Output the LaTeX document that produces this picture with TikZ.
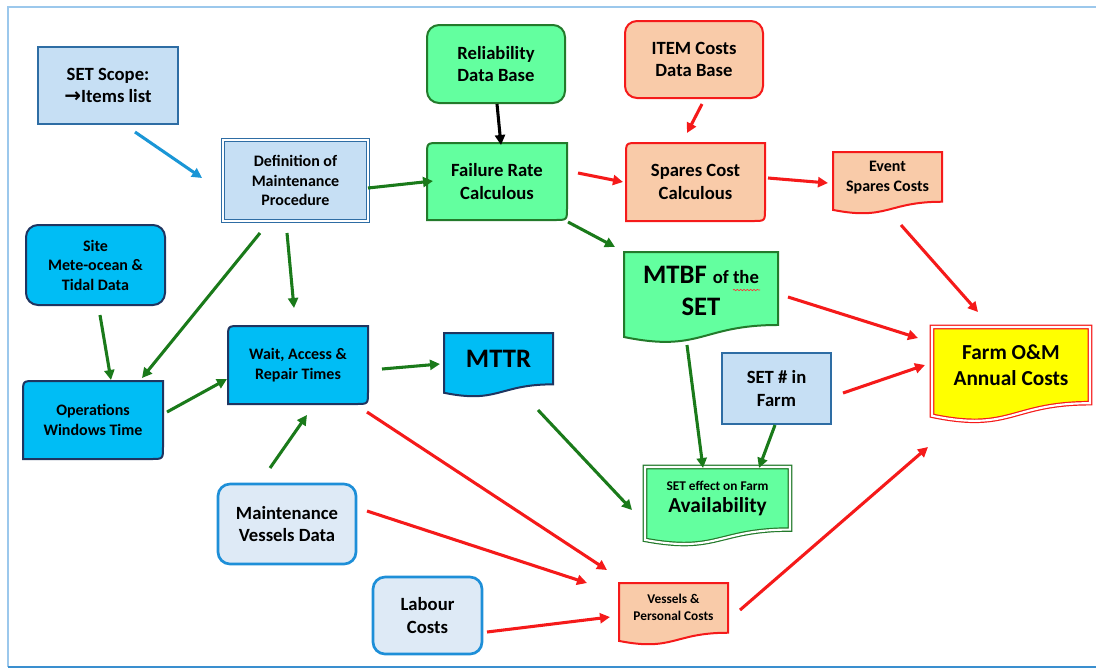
\documentclass[tikz,border=0pt]{standalone}
\usepackage{fontspec}
\setmainfont{Carlito}
\newfontfamily\arrowfont{DejaVu Sans}
\usetikzlibrary{arrows.meta,decorations.pathmorphing}
\definecolor{lblue}{HTML}{C6DFF4}
\definecolor{lbluebd}{HTML}{2E6DA4}
\definecolor{sky}{HTML}{00BDF5}
\definecolor{navy}{HTML}{1F3560}
\definecolor{pblue}{HTML}{DEEAF6}
\definecolor{pbluebd}{HTML}{1E8FD8}
\definecolor{mint}{HTML}{63FF9F}
\definecolor{dgreen}{HTML}{237A2B}
\definecolor{peach}{HTML}{F9CBA9}
\definecolor{ared}{HTML}{F51A1A}
\definecolor{agreen}{HTML}{1A7A1A}
\definecolor{ablue}{HTML}{1A96D6}
\definecolor{ayellow}{HTML}{FFFF00}
\definecolor{frametop}{HTML}{9CC8EC}
\definecolor{framebot}{HTML}{3A8FCF}
\newcommand\diagshape[5]{\path[#1] (#2,#5) -- (#2,#3+12) .. controls (#2,#3) .. (#2+12,#3) -- (#4,#3) -- (#4,#5-12) .. controls (#4,#5) .. (#4-12,#5) -- cycle;}
\newcommand\docshape[5]{\path[#1] (#2,#3) -- (#4,#3) -- (#4,{#3+0.802*(#5-#3)}) .. controls ({(#2+#4)/2},{#3+0.802*(#5-#3)}) and ({(#2+#4)/2},{#3+1.108*(#5-#3)}) .. (#2,{#3+0.934*(#5-#3)}) -- cycle;}
\newcommand\rectshape[5]{\path[#1] (#2,#3) rectangle (#4,#5);}
\tikzset{
  lbox/.style={fill=lblue,draw=lbluebd,line width=1.4pt},
  skybox/.style={fill=sky,draw=navy,line width=1.5pt},
  pbox/.style={fill=pblue,draw=pbluebd,line width=2pt,rounded corners=9pt},
  mintbox/.style={fill=mint,draw=dgreen,line width=1.5pt},
  peachbox/.style={fill=peach,draw=ared,line width=1.5pt},
  dbl/.style={line width=0.9pt,double=white,double distance=1.6pt},
  txt/.style={align=center,text=black,inner sep=0pt},
  fa/.style={font=\bfseries\fontsize{14}{17}\selectfont},
  fb/.style={font=\bfseries\fontsize{12}{14.6}\selectfont},
  arr/.style={line width=2.3pt,-{Triangle[length=7.5pt,width=7.5pt]}},
  ga/.style={arr,draw=agreen},
  ra/.style={arr,draw=ared},
}
\begin{document}
\begin{tikzpicture}[x=0.75pt,y=-0.75pt]
\useasboundingbox (0,0) rectangle (1096,669);
% frame
\draw[frametop,line width=1.5pt] (8,667) -- (8,7) -- (1096,7);
\draw[framebot,line width=1.8pt] (8,667) -- (1096,667);
% shapes
\rectshape{lbox}{38}{47}{178}{124}
\rectshape{lbox,dbl,draw=lbluebd}{223}{140}{368}{221}
\rectshape{mintbox,rounded corners=9pt}{427}{25}{565}{103}
\diagshape{mintbox}{427}{143}{567}{220}
\rectshape{peachbox,rounded corners=9pt}{625}{21}{763}{98}
\diagshape{peachbox}{626}{143}{765}{221}
\docshape{peachbox}{833}{152}{942}{214}
\docshape{fill=ayellow,draw=ared,dbl}{932}{327}{1090}{422}
\rectshape{skybox,rounded corners=9pt}{26}{225}{165}{305}
\diagshape{skybox}{23}{381}{163}{459}
\diagshape{skybox}{228}{326}{368}{404}
\docshape{skybox}{444}{333}{553}{397}
\docshape{mintbox}{624}{252}{778}{343}
\rectshape{lbox}{722}{353}{831}{424}
\docshape{fill=mint,draw=dgreen,dbl}{645}{467}{790}{545}
\rectshape{pbox}{218}{484}{356}{564}
\rectshape{pbox}{373}{577}{482}{654}
\docshape{peachbox}{619}{583}{728}{645}
% nodes
\node[txt,fa] (scope) at (108,85.5) {SET Scope:\\{\arrowfont\fontsize{15}{17}\selectfont →}Items list};
\node[txt,fb] (def) at (295.5,180.5) {Definition of\\Maintenance\\Procedure};
\node[txt,fa] (rel) at (496,64) {Reliability\\Data Base};
\node[txt,fa] (fail) at (497,181.5) {Failure Rate\\Calculous};
\node[txt,fa] (item) at (694,59.5) {ITEM Costs\\Data Base};
\node[txt,fa] (spares) at (695.5,182) {Spares Cost\\Calculous};
\node[txt,font=\bfseries\fontsize{12}{15}\selectfont] (event) at (887.5,178) {Event\\Spares Costs};
\node[txt,font=\bfseries\fontsize{16}{19.5}\selectfont] (farm) at (1011,365) {Farm O\&M\\Annual Costs};
\node[txt,fb] (site) at (95.5,265) {Site\\Mete-ocean \&\\Tidal Data};
\node[txt,fb] (ops) at (93,420) {Operations\\Windows Time};
\node[txt,fb] (wait) at (298,365) {Wait, Access \&\\Repair Times};
\node[txt,font=\bfseries\fontsize{20}{24}\selectfont] (mttr) at (498.5,359) {MTTR};
\node[txt,font=\bfseries\fontsize{20}{24}\selectfont] (mtbf) at (701,291) {MTBF {\fontsize{14}{17}\selectfont of the}\\SET};
\node[txt,fa] (setn) at (776.5,388.5) {SET \# in\\Farm};
\node[txt,font=\bfseries\fontsize{12}{16.5}\selectfont] (avail) at (717.5,498) {{\fontsize{10}{12}\selectfont SET effect on Farm}\\{\fontsize{16}{19}\selectfont Availability}};
\node[txt,fa] (maint) at (287,524) {Maintenance\\Vessels Data};
\node[txt,fa] (labour) at (427.5,615.5) {Labour\\Costs};
\node[txt,font=\bfseries\fontsize{10}{12.75}\selectfont] (vp) at (673.5,607.5) {Vessels \&\\Personal Costs};
% spell-check squiggle
\draw[red!80,line width=0.5pt,decorate,decoration={snake,amplitude=0.5pt,segment length=2.5pt}] (733,290) -- (760,290);
% connectors
\draw[arr,draw=ablue] ([shift={(27,46.5)}]scope.center) -- ([shift={(-93.5,-2.5)}]def.center);
\draw[ga] ([shift={(72.5,7.5)}]def.center) -- ([shift={(-64,-0.5)}]fail.center);
\draw[arr,draw=black] ([shift={(1,40)}]rel.center) -- ([shift={(4,-36.5)}]fail.center);
\draw[ra] ([shift={(8,44.5)}]item.center) -- ([shift={(-8.5,-49)}]spares.center);
\draw[ra] ([shift={(81,-8.5)}]fail.center) -- ([shift={(-72.5,0)}]spares.center);
\draw[ra] ([shift={(72.5,-4)}]spares.center) -- ([shift={(-59.5,5)}]event.center);
\draw[ga] ([shift={(71,40.5)}]fail.center) -- ([shift={(-86,-44)}]mtbf.center);
\draw[ra] ([shift={(13.5,47)}]event.center) -- ([shift={(-33,-53)}]farm.center);
\draw[ra] ([shift={(87,6)}]mtbf.center) -- ([shift={(-93,-27)}]farm.center);
\draw[ra] ([shift={(66.5,4.5)}]setn.center) -- ([shift={(-86,0)}]farm.center);
\draw[ga] ([shift={(-35.5,52.5)}]def.center) -- ([shift={(49,-42)}]ops.center);
\draw[ga] ([shift={(-8.5,52.5)}]def.center) -- ([shift={(-4,-57)}]wait.center);
\draw[ga] ([shift={(4.5,50)}]site.center) -- ([shift={(18,-40)}]ops.center);
\draw[ga] ([shift={(74,-8)}]ops.center) -- ([shift={(-71,14)}]wait.center);
\draw[ga] ([shift={(84,4)}]wait.center) -- ([shift={(-58.5,5)}]mttr.center);
\draw[ga] ([shift={(-17,-56)}]maint.center) -- ([shift={(9,50)}]wait.center);
\draw[ga] ([shift={(39.5,51)}]mttr.center) -- ([shift={(-85.5,12)}]avail.center);
\draw[ga] ([shift={(-14,54)}]mtbf.center) -- ([shift={(-14.5,-30)}]avail.center);
\draw[ga] ([shift={(-1.5,36.5)}]setn.center) -- ([shift={(41.5,-30)}]avail.center);
\draw[ra] ([shift={(69,47)}]wait.center) -- ([shift={(-66.5,-37.5)}]vp.center);
\draw[ra] ([shift={(80,-13)}]maint.center) -- ([shift={(-86.5,-24.5)}]vp.center);
\draw[ra] ([shift={(59.5,16.5)}]labour.center) -- ([shift={(-63.5,9.5)}]vp.center);
\draw[ra] ([shift={(66.5,2.5)}]vp.center) -- ([shift={(-83,82)}]farm.center);
\end{tikzpicture}
\end{document}
